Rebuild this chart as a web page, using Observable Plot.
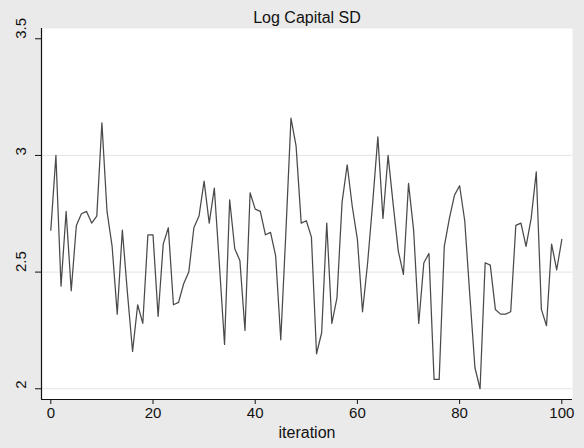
<!DOCTYPE html>
<html>
<head>
<meta charset="utf-8">
<script src="https://cdn.jsdelivr.net/npm/d3@7"></script>
<script src="https://cdn.jsdelivr.net/npm/@observablehq/plot@0.6"></script>
<style>
  html, body { margin: 0; padding: 0; background: #eaeaea; }
  #chart svg { display: block; }
</style>
</head>
<body>
<div id="chart"></div>
<script>
// Standard deviation of log capital at each iteration (0..100)
const logCapitalSD = [
  2.68, 3.00, 2.44, 2.76, 2.42, 2.70, 2.75, 2.76, 2.71, 2.74,
  3.14, 2.76, 2.61, 2.32, 2.68, 2.41, 2.16, 2.36, 2.28, 2.66,
  2.66, 2.31, 2.62, 2.69, 2.36, 2.37, 2.45, 2.50, 2.69, 2.74,
  2.89, 2.71, 2.86, 2.53, 2.19, 2.81, 2.60, 2.55, 2.25, 2.84,
  2.77, 2.76, 2.66, 2.67, 2.57, 2.21, 2.67, 3.16, 3.04, 2.71,
  2.72, 2.65, 2.15, 2.24, 2.71, 2.28, 2.39, 2.80, 2.96, 2.78,
  2.64, 2.33, 2.54, 2.80, 3.08, 2.73, 3.00, 2.79, 2.59, 2.49,
  2.88, 2.68, 2.28, 2.54, 2.58, 2.04, 2.04, 2.61, 2.73, 2.83,
  2.87, 2.72, 2.40, 2.09, 2.00, 2.54, 2.53, 2.34, 2.32, 2.32,
  2.33, 2.70, 2.71, 2.61, 2.73, 2.93, 2.34, 2.27, 2.62, 2.51,
  2.64
];
const xTicks = [0, 20, 40, 60, 80, 100];
const yTicks = [2, 2.5, 3, 3.5];
const yGrid = [2, 2.5, 3];
const titleText = "Log Capital SD";
const xLabel = "iteration";

const rows = logCapitalSD.map((v, i) => ({iteration: i, sd: v}));

const chart = Plot.plot({
  width: 584,
  height: 448,
  marginLeft: 41,
  marginRight: 12,
  marginTop: 28,
  marginBottom: 49,
  style: {background: "#eaeaea", fontFamily: "'Liberation Sans', Arial, sans-serif", fontSize: "14px", color: "#111"},
  x: {domain: [-1.82, 102.09], label: null},
  y: {domain: [1.954, 3.544], label: null},
  marks: [
    Plot.frame({fill: "white", stroke: null}),
    Plot.ruleY(yGrid, {stroke: "#e4e4e4", strokeWidth: 1}),
    Plot.line(rows, {x: "iteration", y: "sd", stroke: "#4a4a4a", strokeWidth: 1.25}),
    Plot.axisX(xTicks, {tickSize: 5, tickPadding: 3, fontSize: 15, stroke: "#111", fill: "#111", label: null}),
    Plot.axisY(yTicks, {tickSize: 6, tickFormat: () => "", stroke: "#111", label: null}),
    Plot.text(yTicks, {y: d => d, frameAnchor: "left", dx: -20, rotate: -90, text: d => String(d), fontSize: 15, fill: "#111"}),
    Plot.ruleX([-1.82], {stroke: "#111", strokeWidth: 1.2}),
    Plot.ruleY([1.954], {stroke: "#111", strokeWidth: 1.2}),
    Plot.text([xLabel], {frameAnchor: "bottom", dy: 38, fontSize: 16, fill: "#111"}),
    Plot.text([titleText], {frameAnchor: "top", dy: -17, fontSize: 16, fill: "#111"})
  ]
});
document.getElementById("chart").append(chart);
</script>
</body>
</html>
